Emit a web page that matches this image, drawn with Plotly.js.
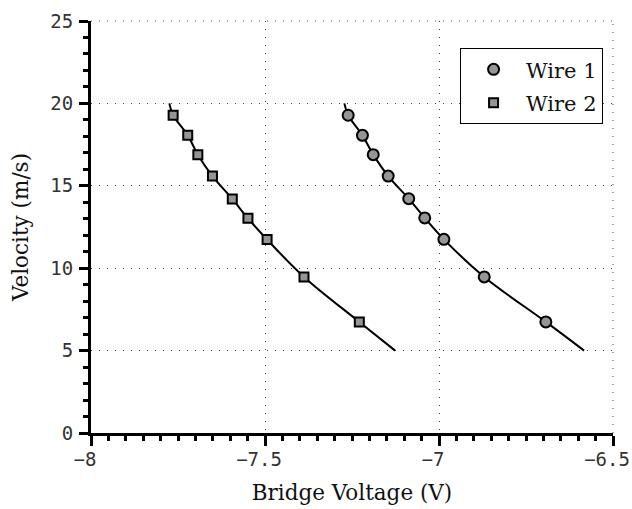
<!DOCTYPE html>
<html>
<head>
<meta charset="utf-8">
<script src="https://cdn.plot.ly/plotly-3.0.1.min.js"></script>
<style>
html,body{margin:0;padding:0;background:#fff;}
#chart{width:632px;height:509px;}
</style>
</head>
<body>
<div id="chart"></div>
<script>
// Measured data (Bridge Voltage in V, Velocity in m/s)
const wire1X = [-7.261, -7.220, -7.189, -7.146, -7.087, -7.041, -6.986, -6.870, -6.693];
const wire1Y = [19.28, 18.06, 16.89, 15.59, 14.22, 13.05, 11.75, 9.47, 6.74];
const wire2X = [-7.764, -7.722, -7.693, -7.651, -7.594, -7.549, -7.494, -7.388, -7.229];
const wire2Y = [19.28, 18.06, 16.89, 15.59, 14.20, 13.03, 11.74, 9.47, 6.74];

// Fit curves
const fit1X = [-7.272, -7.261, -7.220, -7.189, -7.146, -7.087, -7.041, -6.986, -6.870, -6.693, -6.583];
const fit1Y = [20.0, 19.28, 18.06, 16.89, 15.59, 14.22, 13.05, 11.75, 9.47, 6.74, 5.0];
const fit2X = [-7.775, -7.764, -7.722, -7.693, -7.651, -7.594, -7.549, -7.494, -7.388, -7.229, -7.126];
const fit2Y = [20.0, 19.28, 18.06, 16.89, 15.59, 14.20, 13.03, 11.74, 9.47, 6.74, 5.0];

const xTickVals = [-8, -7.5, -7, -6.5];
const xTickText = ['\u22128', '\u22127.5', '\u22127', '\u22126.5'];
const yTickVals = [0, 5, 10, 15, 20, 25];
const yTickText = ['0', '5', '10', '15', '20', '25'];

const seriesNames = ['Wire 1', 'Wire 2'];

const markerFill = '#959595';
const traces = [
  {x: fit1X, y: fit1Y, mode: 'lines', line: {color: '#000', width: 2, shape: 'spline'}, showlegend: false, hoverinfo: 'skip'},
  {x: fit2X, y: fit2Y, mode: 'lines', line: {color: '#000', width: 2, shape: 'spline'}, showlegend: false, hoverinfo: 'skip'},
  {x: wire1X, y: wire1Y, mode: 'markers', name: seriesNames[0], legendgroup: 'g1',
   marker: {symbol: 'circle', size: 11, color: markerFill, line: {color: '#000', width: 2}}},
  {x: wire2X, y: wire2Y, mode: 'markers', name: seriesNames[1], legendgroup: 'g2',
   marker: {symbol: 'square', size: 9, color: markerFill, line: {color: '#000', width: 2}}}
];

const tickFont = {family: 'DejaVu Sans Mono', size: 19, color: '#333'};
const titleFont = {family: 'DejaVu Serif', size: 21.5, color: '#111'};
const gridDotColor = '#444';

const layout = {
  width: 632, height: 509,
  margin: {l: 91, r: 19, t: 21, b: 76, pad: 0},
  paper_bgcolor: '#fff', plot_bgcolor: '#fff',
  showlegend: true,
  legend: {
    x: 0.981, y: 0.934, xanchor: 'right', yanchor: 'top',
    bgcolor: '#fff', bordercolor: '#000', borderwidth: 1,
    font: {family: 'DejaVu Serif', size: 21, color: '#111'},
    traceorder: 'grouped', tracegroupgap: 3, itemwidth: 55
  },
  xaxis: {
    range: [-8, -6.5], tickmode: 'array', tickvals: xTickVals, ticktext: xTickText,
    tickfont: tickFont, ticks: 'outside', ticklen: 10, tickwidth: 3, tickcolor: '#000',
    showline: true, linewidth: 3, linecolor: '#000', zeroline: false,
    showgrid: true, gridcolor: gridDotColor, gridwidth: 1, griddash: '1px,7px',
    minor: {dtick: 0.05, tick0: -8, ticks: 'outside', ticklen: 5, tickwidth: 3, tickcolor: '#000', showgrid: false},
    title: {text: 'Bridge Voltage (V)', font: titleFont, standoff: 17},
    ticklabelstandoff: -3, ticklabelshift: -6, ticklabeloverflow: 'allow'
  },
  yaxis: {
    range: [0, 25], tickmode: 'array', tickvals: yTickVals, ticktext: yTickText,
    tickfont: tickFont, ticks: 'outside', ticklen: 9, tickwidth: 3, tickcolor: '#000',
    showline: true, linewidth: 3, linecolor: '#000', zeroline: false,
    showgrid: true, gridcolor: gridDotColor, gridwidth: 1, griddash: '1px,7px',
    minor: {dtick: 1, tick0: 0, ticks: 'outside', ticklen: 5, tickwidth: 3, tickcolor: '#000', showgrid: false},
    title: {text: 'Velocity (m/s)', font: titleFont, standoff: 16},
    ticklabelstandoff: 2, ticklabeloverflow: 'allow'
  },
  shapes: [
    {type: 'line', xref: 'paper', yref: 'paper', x0: 0, x1: 1, y0: 1, y1: 1,
     line: {color: gridDotColor, width: 1, dash: '1px,7px'}, layer: 'below'},
    {type: 'line', xref: 'paper', yref: 'paper', x0: 1, x1: 1, y0: 0, y1: 1,
     line: {color: gridDotColor, width: 1, dash: '1px,7px'}, layer: 'below'}
  ]
};

Plotly.newPlot('chart', traces, layout, {staticPlot: true, displayModeBar: false});
</script>
</body>
</html>
